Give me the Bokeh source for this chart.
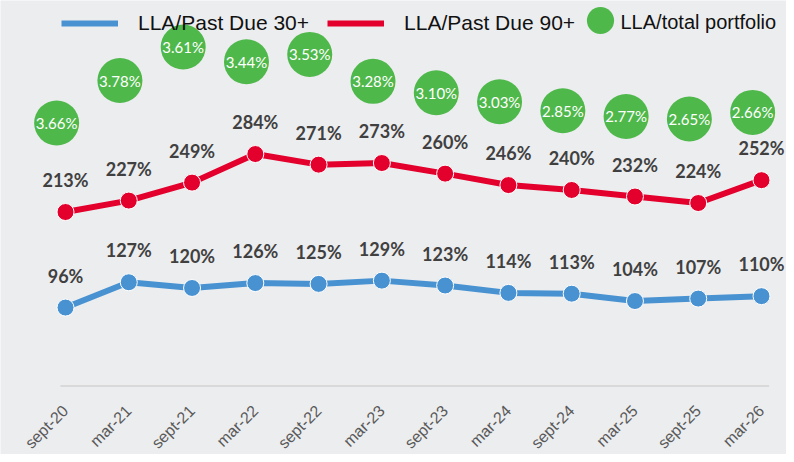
from bokeh.plotting import figure
from bokeh.models import ColumnDataSource, Range1d, Legend, LegendItem, Label
from bokeh.core.properties import value
from bokeh.embed import file_html
from bokeh.resources import INLINE
import math

# ---- data ----
periods = ["sept-20", "mar-21", "sept-21", "mar-22", "sept-22", "mar-23",
           "sept-23", "mar-24", "sept-24", "mar-25", "sept-25", "mar-26"]
lla_pd30 = [96, 127, 120, 126, 125, 129, 123, 114, 113, 104, 107, 110]
lla_pd90 = [213, 227, 249, 284, 271, 273, 260, 246, 240, 232, 224, 252]
lla_total = [3.66, 3.78, 3.61, 3.44, 3.53, 3.28, 3.10, 3.03, 2.85, 2.77, 2.65, 2.66]
# vertical placement of the portfolio bubbles (in left-axis % units, as in the source chart)
bubble_level = [322, 374, 415, 397, 406, 373, 359, 348, 337, 330, 327, 335]

BG = "#ecedef"
BLUE = "#4892d2"
RED = "#e3002c"
GREEN = "#4fb84b"
LABEL = "#404040"

xs = list(range(len(periods)))
src = ColumnDataSource(dict(
    x=xs,
    xb=[x - 0.14 for x in xs],
    zero=[0] * len(xs),
    period=periods,
    pd30=lla_pd30, pd90=lla_pd90,
    pd30_txt=[f"{v}%" for v in lla_pd30],
    pd90_txt=[f"{v}%" for v in lla_pd90],
    tot_txt=[f"{v:.2f}%" for v in lla_total],
    lvl=bubble_level,
))

W, H = 786, 454
p = figure(width=W, height=H, output_backend="svg", toolbar_location=None,
           x_range=Range1d(-1.0273, 11.395), y_range=Range1d(-83.9, 472),
           x_axis_location=None, y_axis_location=None,
           min_border_left=0, min_border_right=0,
           min_border_top=0, min_border_bottom=0)
p.background_fill_color = BG
p.border_fill_color = BG
p.outline_line_color = None
p.xgrid.visible = False
p.ygrid.visible = False

# category axis: baseline + rotated period labels
p.segment(x0=[xs[0] - 0.08], x1=[xs[-1] + 0.12], y0=[0], y1=[0],
          line_color="#d9d9d9", line_width=2)
p.text("x", "zero", text="period", source=src, angle=math.pi / 4,
       text_align="right", text_baseline="middle", x_offset=0, y_offset=22,
       text_color="#595959", text_font=value("Liberation Sans"), text_font_size="16px")

# lines
l30 = p.line("x", "pd30", source=src, line_color=BLUE, line_width=6)
p.scatter("x", "pd30", source=src, size=17, fill_color=BLUE, line_color="white", line_width=1)
l90 = p.line("x", "pd90", source=src, line_color=RED, line_width=6)
p.scatter("x", "pd90", source=src, size=17, fill_color=RED, line_color="white", line_width=1)

# data labels
for col in ("pd30", "pd90"):
    p.text("x", col, text=col + "_txt", source=src, text_align="center",
           text_baseline="middle", y_offset=-32, text_color=LABEL,
           text_font=value("Lato"), text_font_style="bold", text_font_size="18px")

# bubbles
bub = p.scatter("xb", "lvl", source=src, size=45, fill_color=GREEN, line_color=None)
p.text("xb", "lvl", text="tot_txt", source=src, text_align="center",
       text_baseline="middle", text_color="white",
       text_font=value("Lato"), text_font_size="15px")

# legends
leg_a = Legend(items=[LegendItem(label="LLA/Past Due 30+", renderers=[l30]),
                      LegendItem(label="LLA/Past Due 90+", renderers=[l90])],
               orientation="horizontal", location=(61, 419),
               glyph_width=57, glyph_height=20, label_standoff=20, spacing=18,
               padding=0, margin=0, border_line_color=None, background_fill_alpha=0,
               label_text_font="Liberation Sans", label_text_font_size="21px",
               label_text_color="#111111", label_height=20)
leg_b = Legend(items=[LegendItem(label=" ", renderers=[bub])],
               orientation="horizontal", location=(566, 400),
               glyph_width=68, glyph_height=68, label_standoff=0,
               padding=0, margin=0, border_line_color=None, background_fill_alpha=0,
               label_text_font_size="21px")
p.add_layout(leg_a)
p.add_layout(leg_b)
p.add_layout(Label(x=620, y=433, x_units="screen", y_units="screen",
                   text="LLA/total portfolio", text_baseline="middle",
                   text_font="Liberation Sans", text_font_size="20px",
                   text_color="#111111"))

html = file_html(p, INLINE)
html = html.replace("<body>", '<body style="background:%s">' % BG, 1)
open("out.html", "w").write(html)
